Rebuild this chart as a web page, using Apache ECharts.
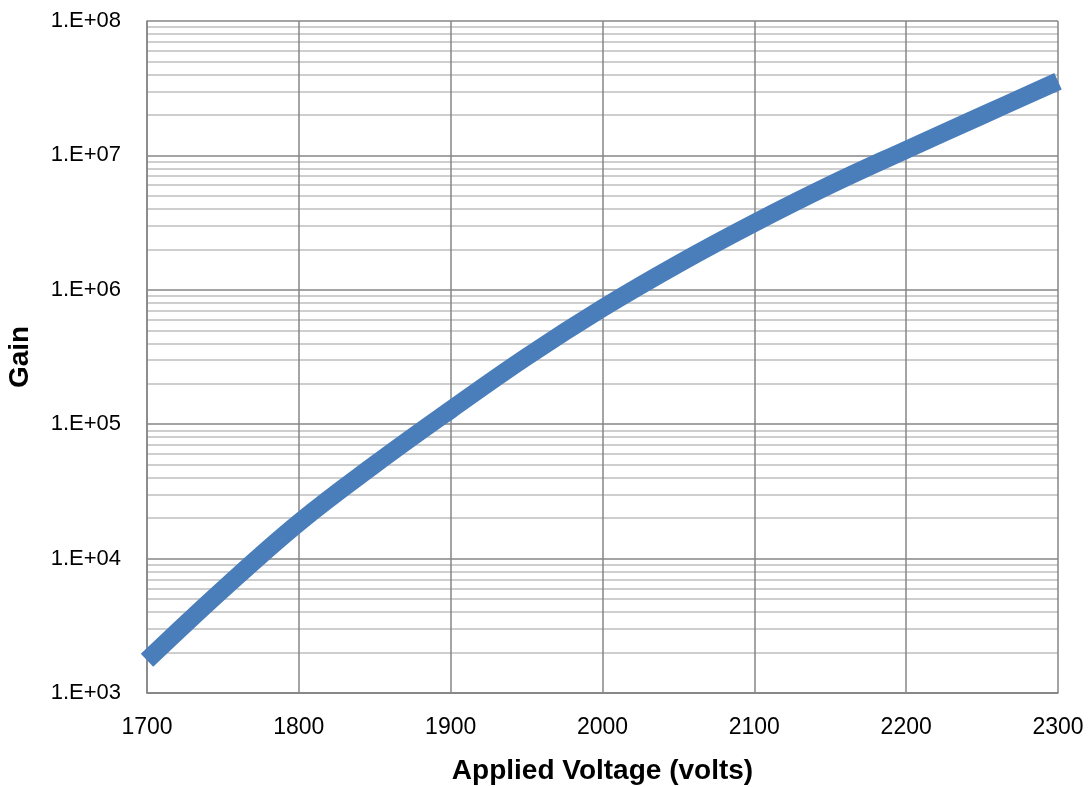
<!DOCTYPE html>
<html>
<head>
<meta charset="utf-8">
<script src="https://cdn.jsdelivr.net/npm/echarts@6/dist/echarts.min.js"></script>
<style>html,body{margin:0;padding:0;background:#fff}#c{width:1088px;height:787px}</style>
</head>
<body>
<div id="c"></div>
<script>
var voltages = [1700, 1750, 1800, 1850, 1900, 1950, 2000, 2050, 2100, 2150, 2200, 2250, 2300];
var gains = [1750, 5900, 18500, 50100, 128000, 317000, 730000, 1560000, 3140000, 6030000, 11000000, 19800000, 35600000];
var xTicks = [1700, 1800, 1900, 2000, 2100, 2200, 2300];
var yTickLabels = ['1.E+03', '1.E+04', '1.E+05', '1.E+06', '1.E+07', '1.E+08'];
var yMinExp = 3, yMaxExp = 8;

var minorValues = [];
for (var e = yMinExp; e < yMaxExp; e++) {
  for (var m = 2; m <= 9; m++) minorValues.push(m * Math.pow(10, e));
}

var chart = echarts.init(document.getElementById('c'));
var font = '"Liberation Sans", Arial, sans-serif';
chart.setOption({
  animation: false,
  backgroundColor: '#fff',
  grid: { left: 147, right: 30, top: 21, bottom: 94, containLabel: false, outerBoundsMode: 'none' },
  xAxis: {
    type: 'value', min: xTicks[0], max: xTicks[xTicks.length - 1], interval: 100,
    z: 2,
    axisLine: { show: true, lineStyle: { color: '#868686', width: 1.5 } },
    axisTick: { show: false },
    splitLine: { show: true, lineStyle: { color: '#868686', width: 1.5 } },
    axisLabel: { color: '#000', fontSize: 23, fontFamily: font, margin: 23,
      formatter: function (v) { return String(v); } },
    name: 'Applied Voltage (volts)', nameLocation: 'middle', nameGap: 64,
    nameTextStyle: { color: '#000', fontSize: 28, fontWeight: 'bold', fontFamily: font }
  },
  yAxis: {
    type: 'log', logBase: 10, min: Math.pow(10, yMinExp), max: Math.pow(10, yMaxExp),
    z: 2,
    axisLine: { show: true, lineStyle: { color: '#868686', width: 1.5 } },
    axisTick: { show: false },
    splitLine: { show: true, lineStyle: { color: '#868686', width: 1.5 } },
    axisLabel: {
      color: '#000', fontSize: 22, fontFamily: font, margin: 26,
      formatter: function (v) {
        var i = Math.round(Math.log10(v)) - yMinExp;
        return yTickLabels[i] || '';
      }
    },
    name: 'Gain', nameLocation: 'middle', nameGap: 113, nameRotate: 90,
    nameTextStyle: { color: '#000', fontSize: 28, fontWeight: 'bold', fontFamily: font }
  },
  series: [
    {
      type: 'line', data: [], z: 1, silent: true,
      markLine: {
        silent: true, symbol: 'none', animation: false, z: 1,
        label: { show: false },
        lineStyle: { color: '#BEBEBE', width: 1.5, type: 'solid' },
        emphasis: { disabled: true },
        data: minorValues.map(function (v) { return { yAxis: v }; })
      }
    },
    {
      type: 'line', z: 3,
      data: voltages.map(function (v, i) { return [v, gains[i]]; }),
      smooth: 0.4, showSymbol: false, symbol: 'none',
      lineStyle: { color: '#4A7EBB', width: 18, cap: 'butt' },
      clip: true
    }
  ]
});
</script>
</body>
</html>
